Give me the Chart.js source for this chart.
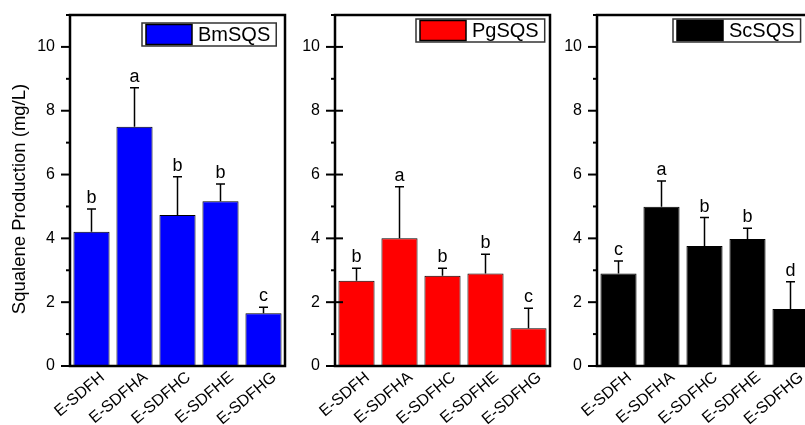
<!DOCTYPE html>
<html>
<head>
<meta charset="utf-8">
<script src="https://cdn.jsdelivr.net/npm/chart.js@4.4.1/dist/chart.umd.min.js"></script>
<style>
  html, body { margin: 0; padding: 0; background: #fff; }
  #wrap { position: relative; width: 805px; height: 425px; overflow: hidden; }
  #wrap canvas { position: absolute; top: 0; }
</style>
</head>
<body>
<div id="wrap">
  <canvas id="chartBm" width="295" height="425" style="left:0px"></canvas>
  <canvas id="chartPg" width="265" height="425" style="left:295px"></canvas>
  <canvas id="chartSc" width="262" height="425" style="left:560px"></canvas>
</div>
<script>
const categories = ['E-SDFH', 'E-SDFHA', 'E-SDFHC', 'E-SDFHE', 'E-SDFHG'];
const yTickLabels = [0, 2, 4, 6, 8, 10];

const bmValues = [4.21, 7.50, 4.73, 5.16, 1.65];
const bmErrors = [0.71, 1.22, 1.20, 0.54, 0.19];
const bmLetters = ['b', 'a', 'b', 'b', 'c'];

const pgValues = [2.67, 4.00, 2.83, 2.90, 1.18];
const pgErrors = [0.39, 1.62, 0.23, 0.60, 0.63];
const pgLetters = ['b', 'a', 'b', 'b', 'c'];

const scValues = [2.90, 4.99, 3.76, 3.98, 1.79];
const scErrors = [0.39, 0.81, 0.89, 0.34, 0.85];
const scLetters = ['c', 'a', 'b', 'b', 'd'];

const FONT = "'Liberation Sans', Arial, sans-serif";
Chart.defaults.font.family = FONT;
Chart.defaults.color = '#000';

// error bars, letters, frame, y ticks, legend box and axis title
const decorPlugin = {
  id: 'decor',
  afterDatasetsDraw(chart, args, opts) {
    const ctx = chart.ctx;
    const area = chart.chartArea;
    const y = chart.scales.y;
    const meta = chart.getDatasetMeta(0);
    const vals = chart.data.datasets[0].data;
    ctx.save();
    ctx.strokeStyle = '#000';
    ctx.fillStyle = '#000';

    meta.data.forEach((bar, i) => {
      const top = y.getPixelForValue(vals[i]);
      const hi = y.getPixelForValue(vals[i] + opts.errors[i]);
      ctx.lineWidth = 1.5;
      ctx.beginPath();
      ctx.moveTo(bar.x, top);
      ctx.lineTo(bar.x, hi);
      ctx.moveTo(bar.x - 4.5, hi);
      ctx.lineTo(bar.x + 4.5, hi);
      ctx.stroke();
      ctx.font = '18px ' + FONT;
      ctx.textAlign = 'center';
      ctx.textBaseline = 'alphabetic';
      ctx.fillText(opts.letters[i], bar.x, hi - 6);
    });

    // frame
    ctx.lineWidth = 2.5;
    ctx.strokeRect(area.left, area.top, area.right - area.left, area.bottom - area.top);

    // y ticks, major and minor
    ctx.lineWidth = 2;
    for (let v = 0; v <= 11; v++) {
      const py = y.getPixelForValue(v);
      const major = yTickLabels.includes(v);
      const out = major ? 9 : 4;
      const inn = major && opts.crossTicks ? 8 : 0;
      ctx.beginPath();
      ctx.moveTo(area.left - out, py);
      ctx.lineTo(area.left + inn, py);
      ctx.stroke();
    }

    // legend box
    const lg = opts.legend;
    ctx.font = '20px ' + FONT;
    const tw = ctx.measureText(lg.label).width;
    const h = 23;
    ctx.lineWidth = 1.5;
    ctx.strokeStyle = '#333';
    ctx.fillStyle = '#fff';
    ctx.fillRect(lg.x, lg.y, 4 + 46 + 6 + tw + 6, h);
    ctx.strokeRect(lg.x, lg.y, 4 + 46 + 6 + tw + 6, h);
    ctx.fillStyle = lg.color;
    ctx.fillRect(lg.x + 4, lg.y + 1.5, 46, h - 3);
    ctx.strokeStyle = '#000';
    ctx.strokeRect(lg.x + 4, lg.y + 1.5, 46, h - 3);
    ctx.fillStyle = '#000';
    ctx.textAlign = 'left';
    ctx.textBaseline = 'middle';
    ctx.fillText(lg.label, lg.x + 4 + 46 + 6, lg.y + h / 2 + 1);

    if (opts.title) {
      ctx.translate(20, 199);
      ctx.rotate(-Math.PI / 2);
      ctx.font = '18.5px ' + FONT;
      ctx.textAlign = 'center';
      ctx.textBaseline = 'middle';
      ctx.fillText(opts.title, 0, 0);
    }
    ctx.restore();
  }
};

function makePanel(id, values, errors, letters, color, label, yWidth, legendX, legendY, crossTicks, title) {
  return new Chart(document.getElementById(id), {
    type: 'bar',
    data: {
      labels: categories,
      datasets: [{
        label: label,
        data: values,
        backgroundColor: color,
        borderColor: '#000',
        borderWidth: 1,
        barPercentage: 0.84,
        categoryPercentage: 1
      }]
    },
    options: {
      responsive: false,
      animation: false,
      devicePixelRatio: 1,
      layout: { padding: { left: 0, right: 10, top: 15, bottom: 0 } },
      scales: {
        x: {
          grid: { display: false, drawTicks: false },
          border: { display: false },
          ticks: {
            autoSkip: false, minRotation: 40, maxRotation: 40,
            labelOffset: 11, padding: 2,
            font: { size: 16 }, color: '#000'
          },
          afterFit: s => { s.height = 59; s.paddingTop = 0; s.paddingBottom = 0; }
        },
        y: {
          min: 0,
          max: 11,
          grid: { display: false, drawTicks: false },
          border: { display: false },
          ticks: {
            stepSize: 1, padding: 15, autoSkip: false,
            font: { size: 16 }, color: '#000',
            callback: v => yTickLabels.includes(v) ? v : ''
          },
          afterFit: s => { s.width = yWidth; s.paddingTop = 0; s.paddingBottom = 0; }
        }
      },
      plugins: {
        legend: { display: false },
        tooltip: { enabled: false },
        decor: {
          errors: errors,
          letters: letters,
          crossTicks: crossTicks,
          title: title,
          legend: { label: label, color: color, x: legendX, y: legendY }
        }
      }
    },
    plugins: [decorPlugin]
  });
}

makePanel('chartBm', bmValues, bmErrors, bmLetters, '#0000FF', 'BmSQS', 70, 142, 23, false, 'Squalene Production (mg/L)');
makePanel('chartPg', pgValues, pgErrors, pgLetters, '#FF0000', 'PgSQS', 40, 121, 19, true, '');
makePanel('chartSc', scValues, scErrors, scLetters, '#000000', 'ScSQS', 37, 113, 19, false, '');
</script>
</body>
</html>
